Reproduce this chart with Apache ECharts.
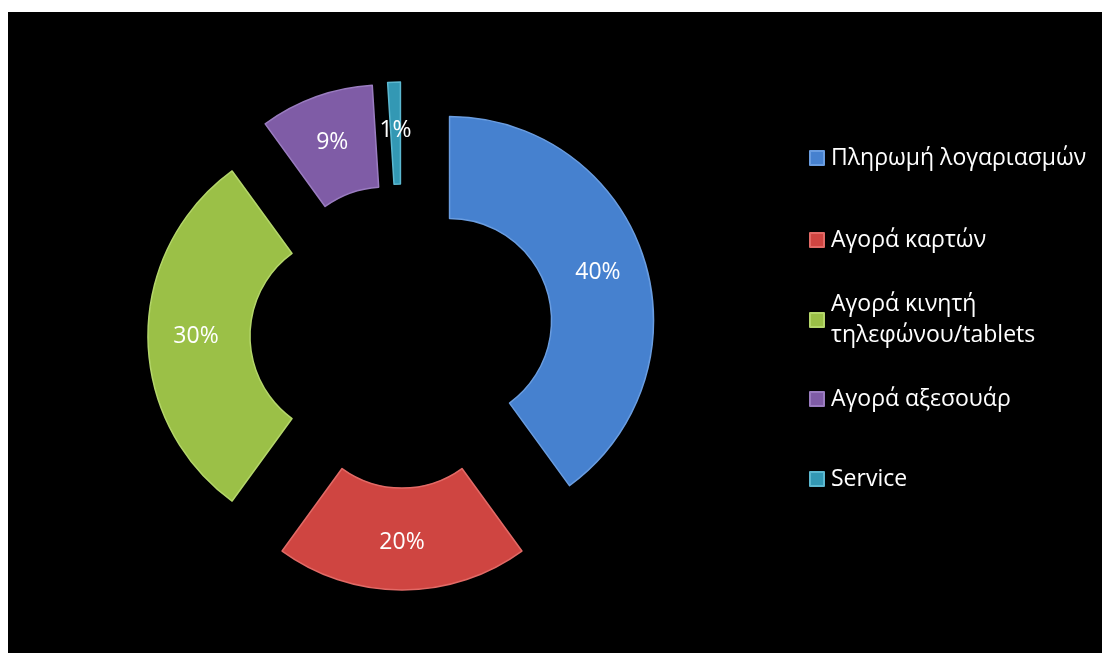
<!DOCTYPE html>
<html>
<head>
<meta charset="utf-8">
<style>
  html, body { margin: 0; padding: 0; background: #ffffff; }
  #chart { position: absolute; left: 8px; top: 12px; width: 1094px; height: 641px; background: #000000; }
</style>
<script src="https://cdn.jsdelivr.net/npm/echarts@6/dist/echarts.min.js"></script>
</head>
<body>
<div id="chart"></div>
<script>
// Usage share by transaction type (percent)
const categories = [
  'Πληρωμή λογαριασμών',
  'Αγορά καρτών',
  'Αγορά κινητή τηλεφώνου/tablets',
  'Αγορά αξεσουάρ',
  'Service'
];
const values = [40, 20, 30, 9, 1];
const colors = ['#4681cf', '#cf4541', '#9bc047', '#7f5ca6', '#3398b4'];
const edgeColors = ['#6a9de0', '#e26a66', '#b4d66a', '#9a7cc0', '#5cb8d0'];

const FONT = '"Open Sans", sans-serif';

const chart = echarts.init(document.getElementById('chart'));

// one legend block per entry, stacked in the right-hand column
const legendCenters = [146, 228, 308, 387, 467];
const LINE = 31;
const legends = categories.map(function (name, i) {
  const wrapped = name.indexOf(' τηλεφώνου') >= 0;
  return {
    data: [name],
    orient: 'vertical',
    left: 801,
    top: wrapped ? legendCenters[i] - LINE * 1.5 : legendCenters[i] - LINE / 2,
    padding: 0,
    icon: 'rect',
    itemWidth: 14,
    itemHeight: 14,
    itemGap: 0,
    selectedMode: false,
    formatter: function (n) { return n.replace(' τηλεφώνου', '\nτηλεφώνου'); },
    textStyle: {
      color: '#ffffff',
      fontFamily: FONT,
      fontSize: 23,
      lineHeight: LINE,
      padding: wrapped ? [LINE, 0, 0, 2] : [0, 0, 0, 2]
    }
  };
});

chart.setOption({
  backgroundColor: '#000000',
  animation: false,
  legend: legends,
  series: [{
    type: 'pie',
    center: [394, 324],
    radius: [102, 204],
    startAngle: 90,
    clockwise: true,
    selectedMode: 'multiple',
    selectedOffset: 50,
    avoidLabelOverlap: false,
    label: {
      show: true,
      position: 'inside',
      formatter: '{c}%',
      color: '#ffffff',
      fontFamily: FONT,
      fontSize: 23
    },
    labelLine: { show: false },
    emphasis: { disabled: true },
    data: categories.map(function (name, i) {
      return {
        name: name,
        value: values[i],
        selected: true,
        itemStyle: { color: colors[i], borderColor: edgeColors[i], borderWidth: 1.5 }
      };
    })
  }]
});
</script>
</body>
</html>
